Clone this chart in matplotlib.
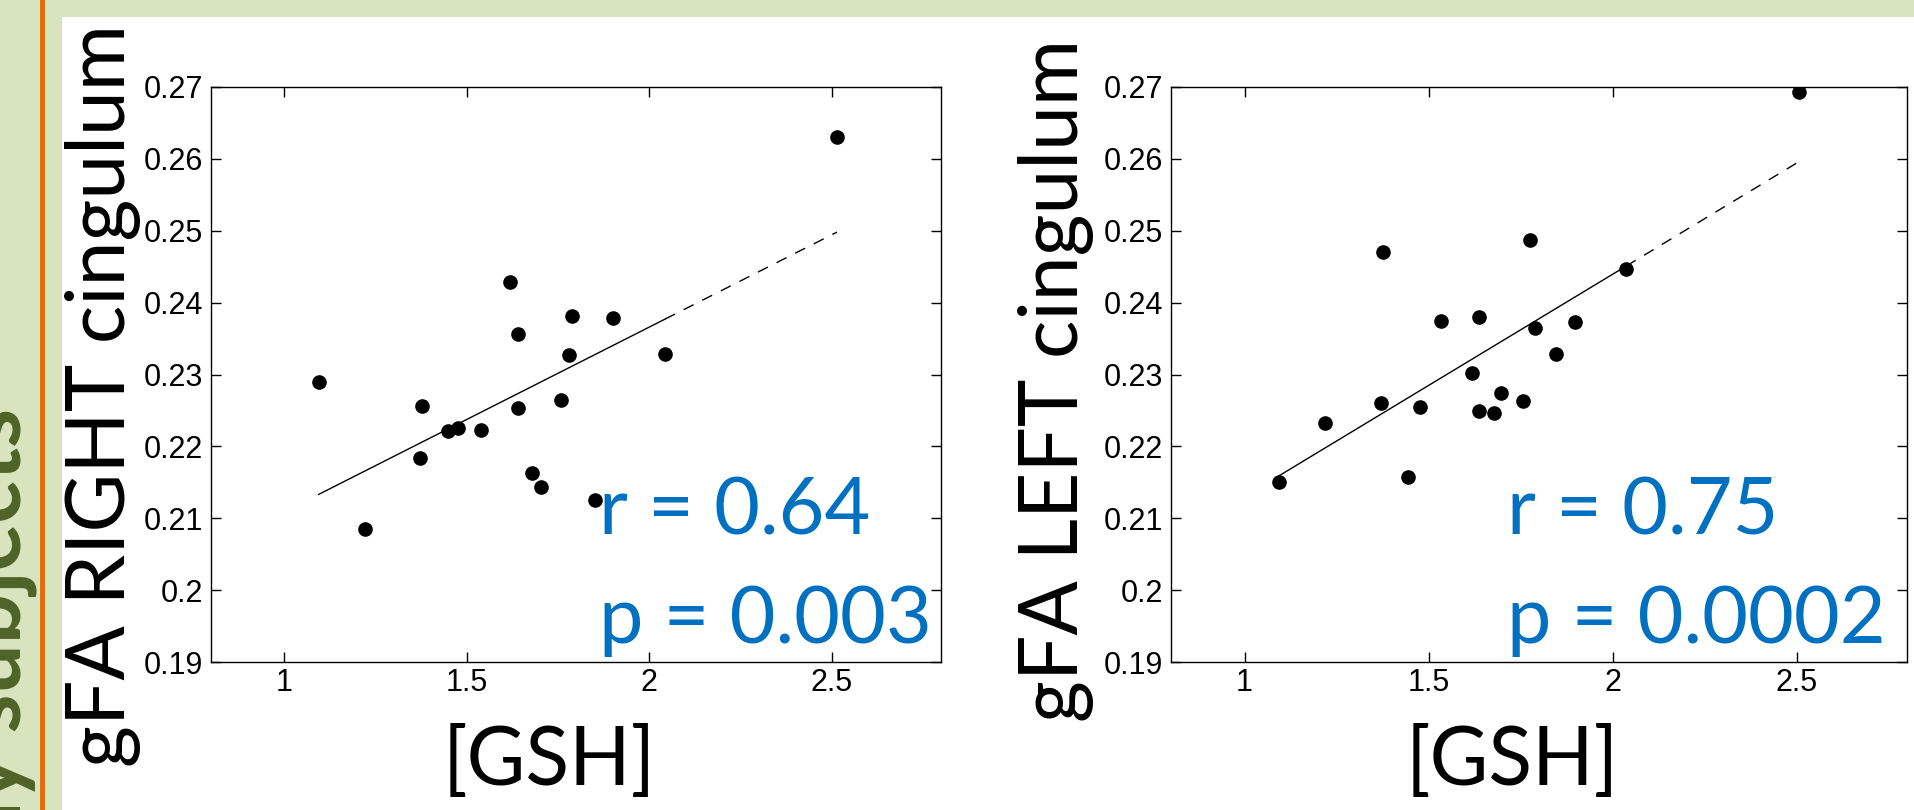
import numpy as np
import matplotlib
matplotlib.use("Agg")
import matplotlib.pyplot as plt
from matplotlib.patches import Rectangle
from matplotlib.lines import Line2D
from matplotlib.ticker import FormatStrFormatter

# GSH concentration vs gFA, right cingulum
gsh_right = [2.515, 1.619, 1.789, 1.900, 1.641, 1.780, 2.044, 1.095, 1.377, 1.641,
             1.760, 1.448, 1.476, 1.539, 1.373, 1.679, 1.703, 1.851, 1.223]
gfa_right = [0.2631, 0.2429, 0.2382, 0.2378, 0.2357, 0.2327, 0.2329, 0.2289, 0.2256, 0.2254,
             0.2264, 0.2221, 0.2226, 0.2223, 0.2184, 0.2163, 0.2144, 0.2125, 0.2085]

# GSH concentration vs gFA, left cingulum
gsh_left = [2.507, 1.775, 1.375, 2.037, 1.637, 1.535, 1.898, 1.789, 1.847, 1.619,
            1.697, 1.372, 1.756, 1.477, 1.637, 1.678, 1.219, 1.444, 1.094]
gfa_left = [0.2693, 0.2487, 0.2470, 0.2447, 0.2380, 0.2375, 0.2373, 0.2365, 0.2328, 0.2302,
            0.2274, 0.2260, 0.2263, 0.2255, 0.2249, 0.2246, 0.2232, 0.2157, 0.2150]

ylabels = ["gFA RIGHT cingulum", "gFA LEFT cingulum"]
r_texts = ["r = 0.64", "r = 0.75"]
p_texts = ["p = 0.003", "p = 0.0002"]
xticks = [1, 1.5, 2, 2.5]
yticks = [0.19, 0.2, 0.21, 0.22, 0.23, 0.24, 0.25, 0.26, 0.27]

W, H = 1914, 810
bg_green = "#D7E4BD"
dark_green = "#4F6228"
orange = "#E46C0A"
blue = "#0070C0"
big_font = "Lato"
tick_font = "Liberation Sans"

fig = plt.figure(figsize=(W / 100, H / 100), dpi=100)
fig.patch.set_facecolor(bg_green)

# white slide panel, orange rule, cut-off side title
fig.add_artist(Rectangle((62 / W, 0), 1, (H - 17) / H, transform=fig.transFigure,
                         facecolor="white", edgecolor="none", zorder=0))
fig.add_artist(Line2D([42 / W, 42 / W], [0, 1], transform=fig.transFigure,
                      color=orange, lw=3.5))
fig.text(20 / W, 1 - 408 / H, "Healthy subjects", rotation=90, rotation_mode="anchor",
         ha="right", va="baseline", fontsize=64, fontweight="bold",
         family=big_font, color=dark_green)

axes_boxes = [(211, 730, -0.118, 0.464, 0.531), (1171, 736, -0.126, 0.49, 0.457)]
datasets = [(gsh_right, gfa_right), (gsh_left, gfa_left)]

for i in range(2):
    left, width, ylab_x, ylab_y, txt_x = axes_boxes[i]
    ax = fig.add_axes([left / W, (H - 662) / H, width / W, 575 / H])
    x = np.array(datasets[i][0])
    y = np.array(datasets[i][1])

    # least squares line: solid over the bulk of the data, dashed out to the last point
    slope, icpt = np.polyfit(x, y, 1)
    xs = np.sort(x)
    ax.plot([xs[0], xs[-2]], [slope * xs[0] + icpt, slope * xs[-2] + icpt],
            color="black", lw=1.0)
    ax.plot([xs[-2], xs[-1]], [slope * xs[-2] + icpt, slope * xs[-1] + icpt],
            color="black", lw=1.0, linestyle=(0, (8, 7)))
    ax.plot(x, y, "o", color="black", markersize=9.5, zorder=3)

    ax.set_xlim(0.8, 2.8)
    ax.set_ylim(0.19, 0.27)
    ax.set_xticks(xticks)
    ax.set_yticks(yticks)
    ax.xaxis.set_major_formatter(FormatStrFormatter("%g"))
    ax.yaxis.set_major_formatter(FormatStrFormatter("%g"))
    ax.tick_params(direction="in", length=7, width=1, top=True, right=True,
                   labelsize=22)
    ax.tick_params(axis="x", pad=4)
    ax.tick_params(axis="y", pad=6)
    for lab in ax.get_xticklabels() + ax.get_yticklabels():
        lab.set_family(tick_font)
    for sp in ax.spines.values():
        sp.set_linewidth(1.0)

    ax.set_xlabel("[GSH]", family=big_font, fontsize=58, va="baseline")
    ax.xaxis.set_label_coords(0.463, -0.214)
    ax.set_ylabel(ylabels[i], family=big_font, fontsize=58, rotation=90,
                  rotation_mode="anchor", ha="center", va="baseline")
    ax.yaxis.set_label_coords(ylab_x, ylab_y)

    ax.text(txt_x, 0.221, r_texts[i], transform=ax.transAxes, family=big_font,
            fontsize=57, color=blue, ha="left", va="baseline")
    ax.text(txt_x, 0.033, p_texts[i], transform=ax.transAxes, family=big_font,
            fontsize=57, color=blue, ha="left", va="baseline")

fig.savefig("out.png", dpi=100, facecolor=fig.get_facecolor())
